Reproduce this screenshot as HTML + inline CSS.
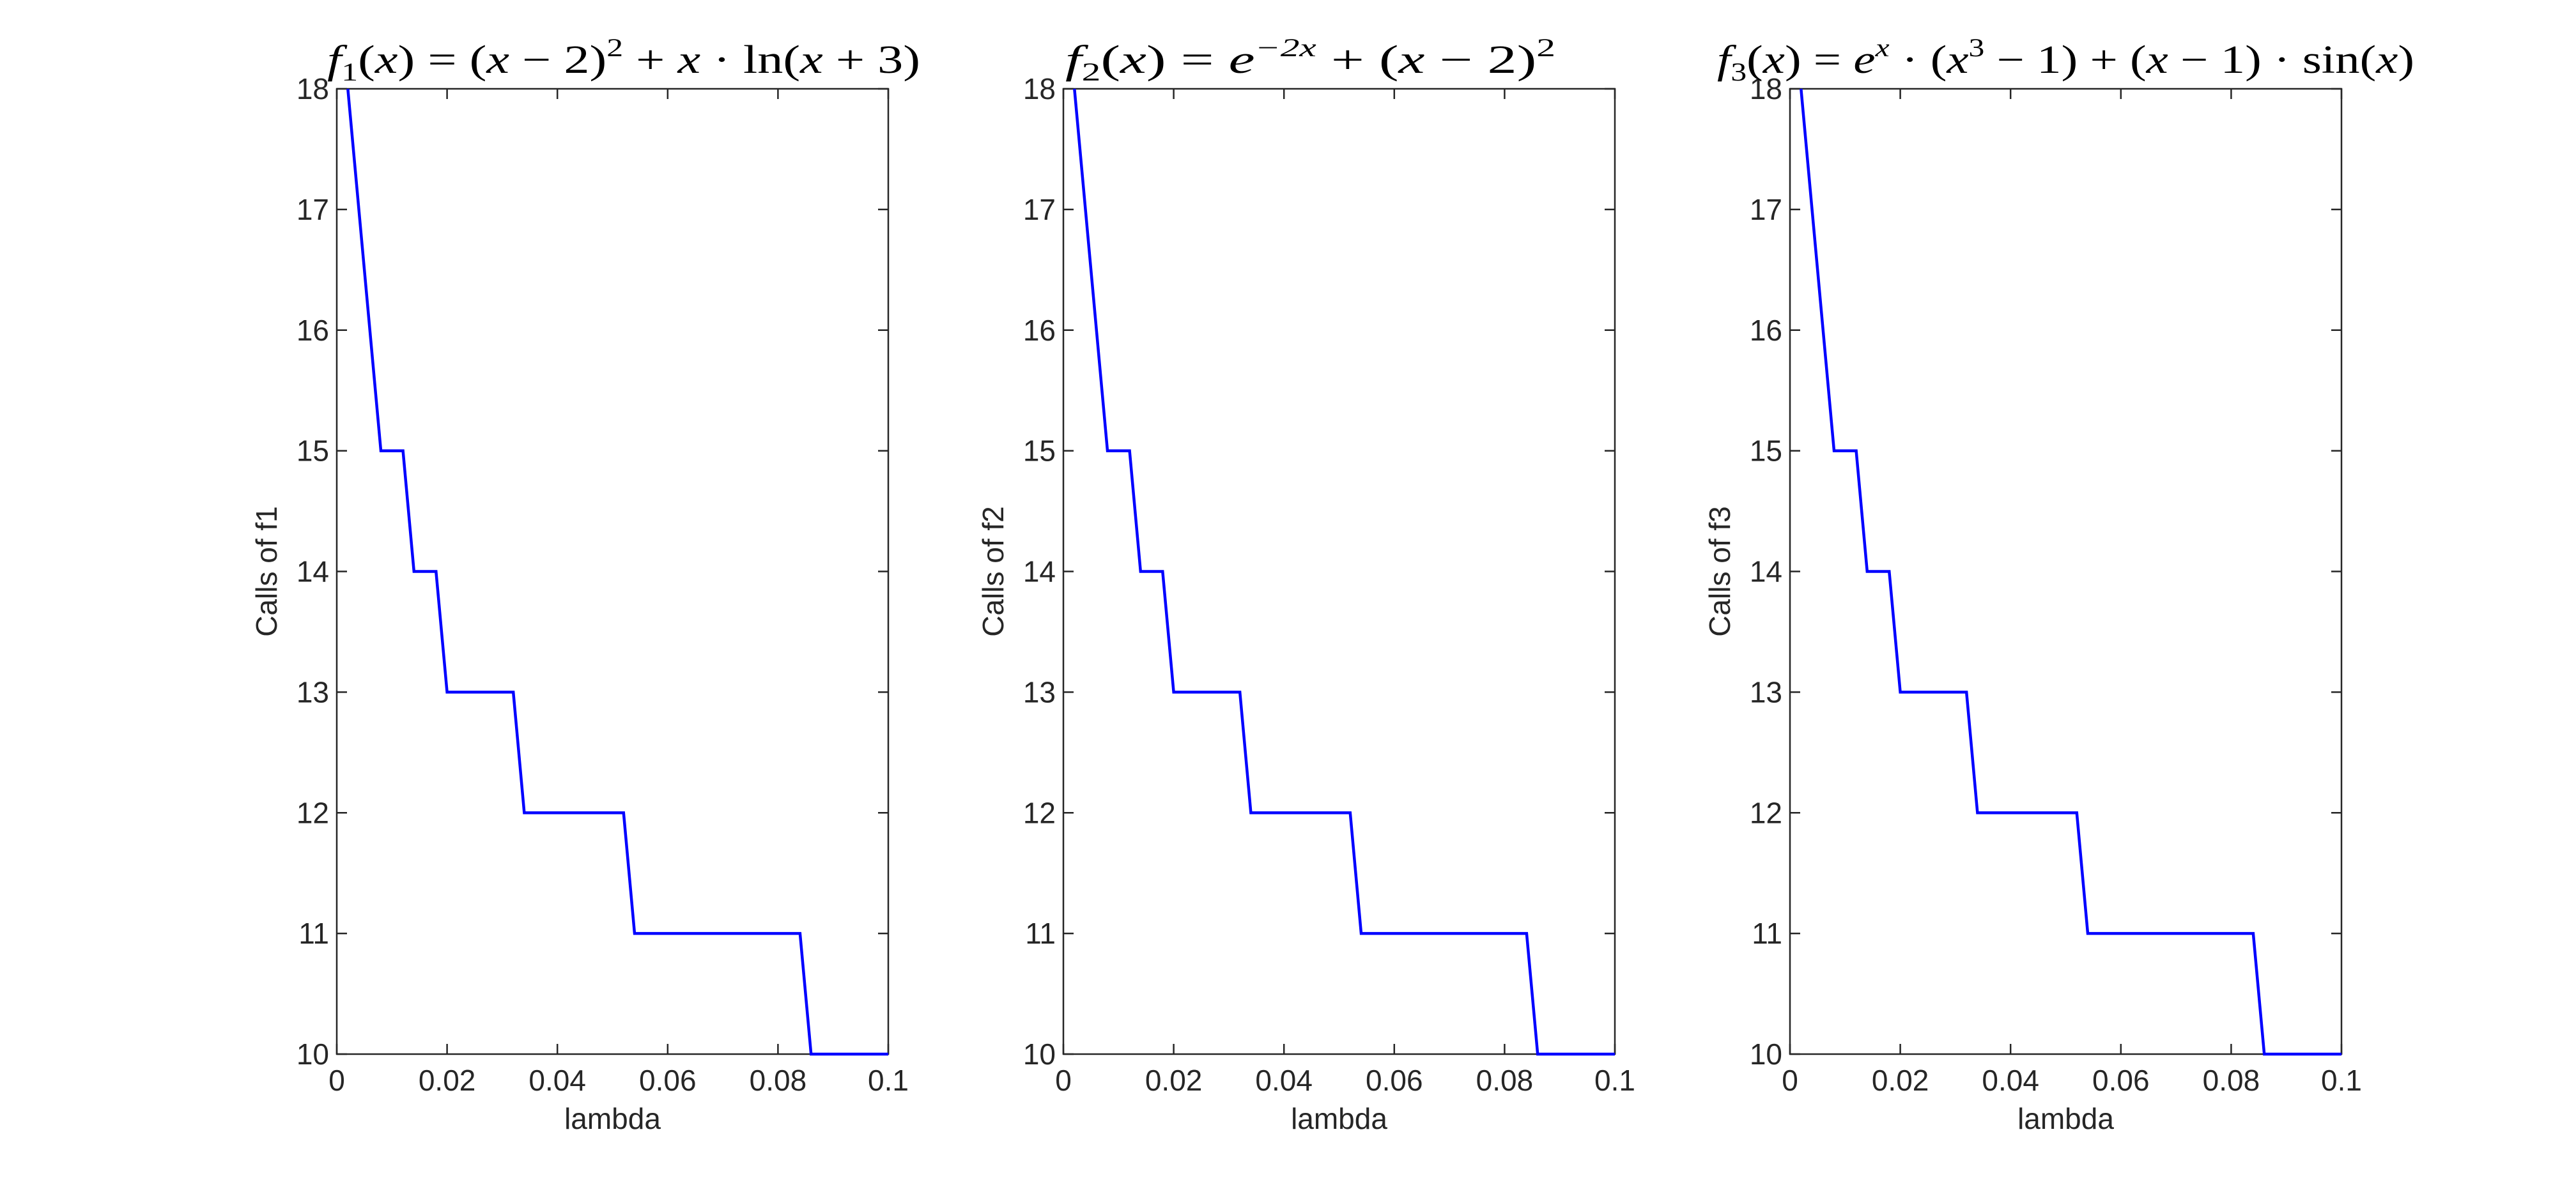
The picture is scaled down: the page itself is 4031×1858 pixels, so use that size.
<!DOCTYPE html>
<html><head><meta charset="utf-8"><style>
html,body{margin:0;padding:0;background:#fff;}
svg text{font-family:"Liberation Sans",sans-serif;fill:#262626;}
.t{font-family:"Liberation Serif",serif;fill:#000;}
</style></head><body>
<svg id="s" xmlns="http://www.w3.org/2000/svg" width="4031" height="1853" viewBox="0 0 4031 1853"></svg>
<script>
const s=document.getElementById('s');
let h='';
const T=139,B=1650,W=863,H=B-T;
const lefts=[527,1664,2801];
const pts=[[0.002,18],[0.008,15],[0.012,15],[0.014,14],[0.018,14],[0.020,13],[0.032,13],[0.034,12],[0.052,12],[0.054,11],[0.084,11],[0.086,10],[0.1,10]];
const titles=[
 {x:512,w:928,c:'<tspan font-style="italic">f</tspan><tspan font-size="40" dy="12">1</tspan><tspan dy="-12">(</tspan><tspan font-style="italic">x</tspan>) = (<tspan font-style="italic">x</tspan> − 2)<tspan font-size="40" dy="-26">2</tspan><tspan dy="26"> + </tspan><tspan font-style="italic">x</tspan> · ln(<tspan font-style="italic">x</tspan> + 3)'},
 {x:1667,w:767,c:'<tspan font-style="italic">f</tspan><tspan font-size="40" dy="12">2</tspan><tspan dy="-12">(</tspan><tspan font-style="italic">x</tspan>) = <tspan font-style="italic">e</tspan><tspan font-size="40" dy="-26" font-style="italic">−2x</tspan><tspan dy="26"> + (</tspan><tspan font-style="italic">x</tspan> − 2)<tspan font-size="40" dy="-26">2</tspan>'},
 {x:2687,w:1091,c:'<tspan font-style="italic">f</tspan><tspan font-size="40" dy="12">3</tspan><tspan dy="-12">(</tspan><tspan font-style="italic">x</tspan>) = <tspan font-style="italic">e</tspan><tspan font-size="40" dy="-26" font-style="italic">x</tspan><tspan dy="26"> · (</tspan><tspan font-style="italic">x</tspan><tspan font-size="40" dy="-26">3</tspan><tspan dy="26"> − 1) + (</tspan><tspan font-style="italic">x</tspan> − 1) · sin(<tspan font-style="italic">x</tspan>)'}
];
lefts.forEach((L,i)=>{
 const R=L+W;
 const X=v=>L+v/0.1*W, Y=v=>T+(18-v)/8*H;
 for(let k=0;k<=5;k++){const x=X(k*0.02);
  h+=`<line x1="${x}" y1="${B}" x2="${x}" y2="${B-16}" stroke="#262626" stroke-width="2.5"/>`;
  h+=`<line x1="${x}" y1="${T}" x2="${x}" y2="${T+16}" stroke="#262626" stroke-width="2.5"/>`;
  const lab=k==0?'0':(k==5?'0.1':(k*0.02).toFixed(2));
  h+=`<text x="${x}" y="${B+57}" font-size="46" text-anchor="middle">${lab}</text>`;}
 for(let v=10;v<=18;v++){const y=Y(v);
  h+=`<line x1="${L}" y1="${y}" x2="${L+16}" y2="${y}" stroke="#262626" stroke-width="2.5"/>`;
  h+=`<line x1="${R}" y1="${y}" x2="${R-16}" y2="${y}" stroke="#262626" stroke-width="2.5"/>`;
  h+=`<text x="${L-12}" y="${y+16}" font-size="46" text-anchor="end">${v}</text>`;}
 h+=`<rect x="${L}" y="${T}" width="${W}" height="${H}" fill="none" stroke="#262626" stroke-width="2.5"/>`;
 h+=`<polyline fill="none" stroke="#0000ff" stroke-width="4.5" points="${pts.map(p=>X(p[0]).toFixed(1)+','+Y(p[1]).toFixed(1)).join(' ')}"/>`;
 h+=`<text x="${L+W/2}" y="${B+117}" font-size="46" text-anchor="middle">lambda</text>`;
 h+=`<text transform="translate(${L-94},${T+H/2}) rotate(-90)" font-size="46" text-anchor="middle">Calls of f${i+1}</text>`;
 const t=titles[i];
 h+=`<text class="t" x="${t.x}" y="114" font-size="62" textLength="${t.w}" lengthAdjust="spacingAndGlyphs">${t.c}</text>`;
});
s.innerHTML=h;
</script>
</body></html>
